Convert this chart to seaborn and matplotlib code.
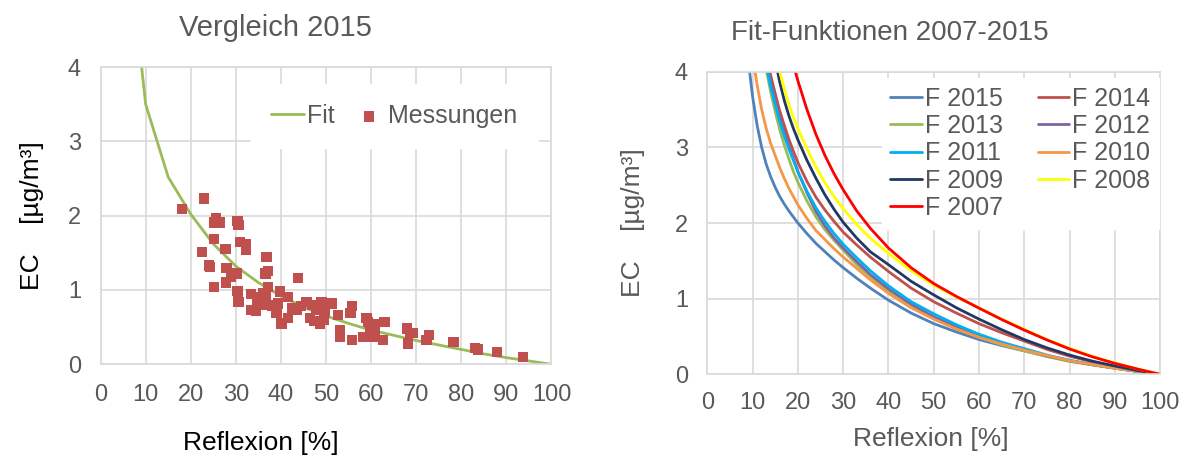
import pandas as pd
import seaborn as sns
import matplotlib.pyplot as plt

# ---------------- Daten ----------------
# linke Grafik: Fit 2015 und Messungen
fit_x = [5, 10, 15, 20, 25, 30, 35, 40, 45, 50, 55, 60, 65, 70, 75, 80, 85, 90, 95, 100]
fit_ec = [6.3, 3.5, 2.52, 2.02, 1.62, 1.32, 1.1, 0.92, 0.77, 0.65, 0.55, 0.46, 0.39, 0.32,
          0.26, 0.2, 0.14, 0.09, 0.045, 0.0]

mess_x = [18.1, 23.0, 25.6, 26.5, 25.3, 30.4, 30.6, 25.2, 30.9, 32.2, 32.2, 27.7, 22.5, 36.8,
          24.0, 24.3, 27.9, 36.6, 37.2, 30.3, 29.0, 27.8, 25.1, 30.4, 30.5, 30.6, 33.3, 33.3,
          34.5, 36.4, 36.6, 37.2, 39.8, 41.6, 39.4, 39.0, 40.1, 41.6, 43.5, 43.8, 45.7, 46.4,
          47.9, 49.0, 48.6, 49.7, 49.6, 51.4, 52.7, 53.1, 53.1, 55.7, 55.4, 55.7, 58.2, 59.0,
          59.3, 59.7, 60.8, 60.6, 60.4, 62.7, 63.0, 67.9, 68.6, 68.2, 69.3, 72.3, 72.9, 78.3,
          83.0, 83.7, 87.9, 93.7, 35.5, 34.8, 38.0, 44.5, 46.9, 47.3, 36.0, 42.6]
mess_ec = [2.09, 2.23, 1.96, 1.91, 1.91, 1.93, 1.87, 1.69, 1.65, 1.61, 1.54, 1.55, 1.51, 1.44,
           1.33, 1.31, 1.30, 1.22, 1.26, 1.22, 1.18, 1.10, 1.04, 0.99, 0.88, 0.84, 0.95, 0.73,
           0.72, 0.80, 0.93, 1.04, 0.98, 0.91, 0.82, 0.69, 0.55, 0.62, 0.73, 1.16, 0.84, 0.62,
           0.73, 0.84, 0.55, 0.71, 0.60, 0.82, 0.66, 0.46, 0.37, 0.78, 0.69, 0.33, 0.37, 0.62,
           0.57, 0.50, 0.46, 0.54, 0.37, 0.33, 0.57, 0.48, 0.42, 0.28, 0.42, 0.33, 0.39, 0.30,
           0.22, 0.20, 0.17, 0.10, 0.90, 0.86, 0.79, 0.78, 0.80, 0.58, 0.96, 0.76]

# rechte Grafik: Fit-Funktionen 2007-2015
kurve_x = [8, 9, 10, 11, 12, 13, 14, 15, 16, 17, 18, 19, 20, 22, 24, 26, 28, 30, 33, 36,
           40, 45, 50, 55, 60, 65, 70, 75, 80, 85, 90, 95, 100]
f2015 = [4.85, 4.17, 3.67, 3.29, 3.0, 2.78, 2.61, 2.47, 2.35, 2.25, 2.16, 2.08, 2.0, 1.86,
         1.73, 1.62, 1.51, 1.41, 1.27, 1.14, 0.98, 0.81, 0.67, 0.56, 0.46, 0.38, 0.31, 0.24,
         0.18, 0.13, 0.085, 0.04, 0.0]
f2014 = [7.86, 6.67, 5.80, 5.13, 4.65, 4.25, 3.95, 3.71, 3.48, 3.29, 3.11, 2.95, 2.80, 2.55,
         2.34, 2.17, 2.02, 1.88, 1.71, 1.55, 1.36, 1.14, 0.96, 0.81, 0.67, 0.55, 0.44, 0.33,
         0.24, 0.165, 0.10, 0.045, 0.0]
f2013 = [7.52, 6.38, 5.54, 4.90, 4.41, 4.03, 3.73, 3.47, 3.23, 3.03, 2.85, 2.68, 2.54, 2.29,
         2.08, 1.91, 1.77, 1.64, 1.45, 1.29, 1.10, 0.90, 0.74, 0.60, 0.49, 0.39, 0.31, 0.235,
         0.17, 0.125, 0.08, 0.038, 0.0]
f2012 = [7.76, 6.59, 5.73, 5.07, 4.56, 4.17, 3.86, 3.61, 3.38, 3.20, 3.02, 2.85, 2.68, 2.40,
         2.15, 1.96, 1.80, 1.67, 1.49, 1.32, 1.13, 0.93, 0.76, 0.63, 0.51, 0.41, 0.33, 0.245,
         0.18, 0.127, 0.082, 0.038, 0.0]
f2011 = [7.57, 6.46, 5.62, 4.97, 4.47, 4.09, 3.80, 3.56, 3.34, 3.15, 2.98, 2.83, 2.68, 2.42,
         2.20, 2.02, 1.86, 1.72, 1.54, 1.37, 1.17, 0.96, 0.80, 0.655, 0.53, 0.425, 0.34, 0.255,
         0.187, 0.13, 0.082, 0.038, 0.0]
f2010 = [5.58, 4.80, 4.22, 3.82, 3.50, 3.25, 3.05, 2.89, 2.73, 2.59, 2.46, 2.35, 2.24, 2.06,
         1.90, 1.78, 1.66, 1.55, 1.40, 1.25, 1.07, 0.88, 0.73, 0.60, 0.49, 0.40, 0.32, 0.25,
         0.18, 0.13, 0.08, 0.04, 0.0]
f2009 = [9.8, 8.3, 7.1, 6.2, 5.5, 4.95, 4.5, 4.15, 3.86, 3.62, 3.42, 3.25, 3.10, 2.83,
         2.59, 2.37, 2.18, 2.01, 1.80, 1.62, 1.45, 1.23, 1.05, 0.88, 0.73, 0.59, 0.46, 0.35,
         0.255, 0.175, 0.11, 0.05, 0.0]
f2008 = [9.9, 8.4, 7.25, 6.35, 5.65, 5.1, 4.65, 4.3, 4.0, 3.77, 3.57, 3.40, 3.25, 2.98,
         2.74, 2.53, 2.35, 2.19, 1.98, 1.80, 1.60, 1.37, 1.18, 1.02, 0.88, 0.73, 0.595, 0.46,
         0.345, 0.24, 0.15, 0.072, 0.0]
f2007 = [12.8, 10.8, 9.3, 8.1, 7.15, 6.4, 5.8, 5.3, 4.9, 4.58, 4.32, 4.09, 3.88, 3.50,
         3.17, 2.89, 2.65, 2.44, 2.16, 1.93, 1.67, 1.41, 1.20, 1.03, 0.875, 0.725, 0.585, 0.455,
         0.335, 0.232, 0.145, 0.07, 0.0]

serien = ['F 2015', 'F 2014', 'F 2013', 'F 2012', 'F 2011',
          'F 2010', 'F 2009', 'F 2008', 'F 2007']
werte = [f2015, f2014, f2013, f2012, f2011, f2010, f2009, f2008, f2007]
farben = ['#4F81BD', '#C0504D', '#9BBB59', '#8064A2', '#00B0F0',
          '#F79646', '#1F3864', '#FFFF00', '#FF0000']

GRAU = '#595959'
GITTER = '#D9D9D9'

sns.set_theme(style='whitegrid')
plt.rcParams['font.family'] = ['Liberation Sans', 'DejaVu Sans']

fig = plt.figure(figsize=(11.87, 4.59), dpi=100)
ax1 = fig.add_axes([0.0847, 0.2063, 0.3799, 0.6477])
ax2 = fig.add_axes([0.5959, 0.1845, 0.3814, 0.6593])


def achsen_stil(ax, padx, pady):
    ax.set_xlim(0, 100)
    ax.set_ylim(0, 4)
    ax.set_xticks(range(0, 101, 10))
    ax.set_yticks(range(0, 5))
    ax.grid(True, color=GITTER, linewidth=1.2)
    ax.set_axisbelow(True)
    for s in ax.spines.values():
        s.set_color(GITTER)
        s.set_linewidth(1.2)
    ax.tick_params(axis='both', length=0, labelsize=17, labelcolor=GRAU)
    ax.tick_params(axis='x', pad=padx)
    ax.tick_params(axis='y', pad=pady)


# ---- linke Grafik ----
df_fit = pd.DataFrame({'Reflexion': fit_x, 'EC': fit_ec})
df_mess = pd.DataFrame({'Reflexion': mess_x, 'EC': mess_ec})

sns.lineplot(data=df_fit, x='Reflexion', y='EC', ax=ax1, color='#9BBB59',
             linewidth=2, label='Fit', zorder=2)
sns.scatterplot(data=df_mess, x='Reflexion', y='EC', ax=ax1, marker='s', s=55,
                color='#C0504D', edgecolor='none', label='Messungen', zorder=3)
achsen_stil(ax1, 14, 14)
ax1.set_xlabel('Reflexion [%]', fontsize=19, color='black')
ax1.xaxis.set_label_coords(0.356, -0.225)
ax1.set_ylabel('EC    [µg/m³]', fontsize=19, color='black')
ax1.yaxis.set_label_coords(-0.125, 0.5)
fig.text(0.232, 0.938, 'Vergleich 2015', fontsize=21, color=GRAU,
         ha='center', va='center')
leg1 = ax1.legend(loc='upper right', bbox_to_anchor=(0.997, 0.985), ncol=2,
                  fontsize=18, frameon=True, framealpha=1, facecolor='white',
                  edgecolor='white', handlelength=1.3, handletextpad=0.12,
                  columnspacing=0.75, borderpad=0.8, fancybox=False)
for t in leg1.get_texts():
    t.set_color(GRAU)

# ---- rechte Grafik ----
lang = pd.DataFrame({
    'Reflexion': [x for _ in serien for x in kurve_x],
    'EC': [v for w in werte for v in w],
    'Serie': [s for s in serien for _ in kurve_x],
})
sns.lineplot(data=lang, x='Reflexion', y='EC', hue='Serie', hue_order=serien,
             palette=dict(zip(serien, farben)), linewidth=2, sort=False, ax=ax2)
achsen_stil(ax2, 13, 14)
ax2.set_xlabel('Reflexion [%]', fontsize=19, color=GRAU)
ax2.xaxis.set_label_coords(0.494, -0.175)
ax2.set_ylabel('EC    [µg/m³]', fontsize=19, color=GRAU)
ax2.yaxis.set_label_coords(-0.138, 0.5)
fig.text(0.75, 0.928, 'Fit-Funktionen 2007-2015', fontsize=20, color=GRAU,
         ha='center', va='center')

handles, labels = ax2.get_legend_handles_labels()
lookup = dict(zip(labels, handles))
reihenfolge = ['F 2015', 'F 2013', 'F 2011', 'F 2009', 'F 2007',
               'F 2014', 'F 2012', 'F 2010', 'F 2008']
leg2 = ax2.legend([lookup[k] for k in reihenfolge], reihenfolge, loc='upper right',
                  bbox_to_anchor=(1.025, 1.02), ncol=2, fontsize=18, frameon=True,
                  framealpha=1, facecolor='white', edgecolor='white',
                  handlelength=1.25, handletextpad=0.12, columnspacing=1.4,
                  labelspacing=0.13, borderpad=0.35, fancybox=False)
for t in leg2.get_texts():
    t.set_color(GRAU)

fig.savefig('out.png', dpi=100)
